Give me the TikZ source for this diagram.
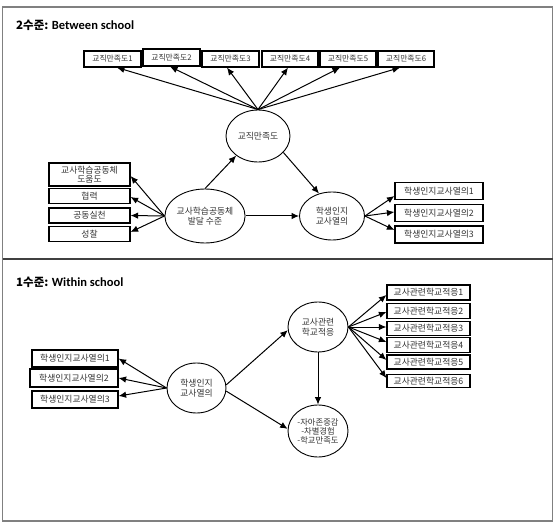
\documentclass[tikz,border=0pt]{standalone}
\usepackage{fontspec}
\setmainfont{Noto Sans CJK KR}
\newfontfamily\latinb{Carlito}
\usetikzlibrary{arrows.meta,shapes.geometric}
\definecolor{txt}{HTML}{333333}
\tikzset{
  box/.style={draw=black, line width=1.2pt, fill=white, inner sep=0pt, minimum height=15pt,
    font=\fontsize{8.8}{10}\selectfont, text=txt, align=center},
  smallbox/.style={box, minimum height=16pt, font=\fontsize{7.8}{9}\selectfont},
  lat/.style={draw=black, line width=0.9pt, ellipse, inner sep=0pt,
    font=\fontsize{8.8}{10.5}\selectfont, text=txt, align=center},
  arr/.style={-{Latex[length=7.5pt,width=6.5pt]}, line width=1pt},
  title/.style={anchor=west, inner sep=0pt, font=\fontsize{11.5}{13}\selectfont\bfseries},
}
\begin{document}
\begin{tikzpicture}[x=1pt,y=-1pt]
\useasboundingbox (0,0) rectangle (555,524);
\draw[gray, line width=1.5pt] (2.5,7) rectangle (552.5,521);
\draw[black!75, line width=1.5pt] (2.5,259) -- (552.5,259);

% ---------- Level 2 ----------
\node[title] (h2) at (16,25) {2수준: {\latinb\fontsize{12.5}{13}\selectfont Between school}};

\node[smallbox, minimum width=57pt] (t1) at (112.5,59) {교직만족도1};
\node[smallbox, minimum width=57pt, minimum height=17pt] (t2) at (171.5,57.5) {교직만족도2};
\node[smallbox, minimum width=57pt] (t3) at (230.5,59) {교직만족도3};
\node[smallbox, minimum width=56pt] (t4) at (290,59) {교직만족도4};
\node[smallbox, minimum width=56pt] (t5) at (348,59) {교직만족도5};
\node[smallbox, minimum width=56pt] (t6) at (406,59) {교직만족도6};

\node[lat, minimum width=64pt, minimum height=52pt] (sat) at (258,136) {교직만족도};

\draw[arr] (sat.north) -- ([xshift=4.5pt]t1.south);
\draw[arr] (sat.north) -- ([xshift=-1.5pt]t2.south);
\draw[arr] (sat.north) -- ([xshift=-3.5pt]t3.south);
\draw[arr] (sat.north) -- ([xshift=-2pt]t4.south);
\draw[arr] (sat.north) -- ([xshift=-8pt]t5.south);
\draw[arr] (sat.north) -- ([xshift=-6pt]t6.south);

\node[box, minimum width=81pt, minimum height=23pt, font=\fontsize{8.8}{9.5}\selectfont] (a) at (89.5,174.5) {교사학습공동체\\도움도};
\node[box, minimum width=81pt] (b) at (89.5,196) {협력};
\node[box, minimum width=81pt] (c) at (89.5,215.5) {공동실천};
\node[box, minimum width=81pt, minimum height=15.5pt] (d) at (89.5,234) {성찰};

\node[lat, minimum width=66pt, minimum height=54pt] (dev) at (205,216) {교사학습공동체\\발달 수준};

\draw[arr] (dev.west) -- ([yshift=-1.5pt]a.east);
\draw[arr] (dev.west) -- ([yshift=-1pt]b.east);
\draw[arr] (dev.west) -- (c.east);
\draw[arr] (dev.west) -- ([yshift=2pt]d.east);

\node[lat, minimum width=65pt, minimum height=48pt] (stu) at (332,216) {학생인지\\교사열의};

\draw[arr] (dev.north) -- (sat.222);
\draw[arr] (dev.east) -- (stu.west);
\draw[arr] (sat.-33) -- (stu.120);

\node[box, minimum width=88pt, minimum height=17pt] (r1) at (439,191) {학생인지교사열의1};
\node[box, minimum width=88pt, minimum height=17pt] (r2) at (439,213) {학생인지교사열의2};
\node[box, minimum width=88pt, minimum height=17pt] (r3) at (439,234.5) {학생인지교사열의3};

\draw[arr] (stu.east) -- ([yshift=-5pt]r1.west);
\draw[arr] (stu.east) -- ([yshift=1pt]r2.west);
\draw[arr] (stu.east) -- ([yshift=4.5pt]r3.west);

% ---------- Level 1 ----------
\node[title] (h1) at (16,282) {1수준: {\latinb\fontsize{12.5}{13}\selectfont Within school}};

\node[box, minimum width=86pt, minimum height=17pt] (l1) at (75,358.5) {학생인지교사열의1};
\node[box, minimum width=88pt, minimum height=18pt] (l2) at (74,378) {학생인지교사열의2};
\node[box, minimum width=86pt, minimum height=17pt] (l3) at (75,399.5) {학생인지교사열의3};

\node[lat, minimum width=59pt, minimum height=50pt] (stu2) at (196.5,388) {학생인지\\교사열의};

\draw[arr] (stu2.west) -- (l1.east);
\draw[arr] (stu2.west) -- (l2.east);
\draw[arr] (stu2.west) -- ([yshift=3.5pt]l3.east);

\node[lat, minimum width=60pt, minimum height=50pt] (adj) at (318,327) {교사관련\\학교적응};
\node[lat, minimum width=60pt, minimum height=52pt, font=\fontsize{8.3}{9}\selectfont] (out) at (318,431) {-자아존중감\\-차별경험\\-학교만족도};

\draw[arr] (stu2.6) -- (adj.186);
\draw[arr] (stu2.-6) -- (out.176);
\draw[arr] (adj.south) -- (out.north);

\node[box, minimum width=83pt] (rb1) at (428.5,292.5) {교사관련학교적응1};
\node[box, minimum width=83pt] (rb2) at (428.5,311) {교사관련학교적응2};
\node[box, minimum width=83pt, minimum height=14pt] (rb3) at (428.5,328.5) {교사관련학교적응3};
\node[box, minimum width=83pt] (rb4) at (428.5,345) {교사관련학교적응4};
\node[box, minimum width=83pt, minimum height=14pt] (rb5) at (428.5,362) {교사관련학교적응5};
\node[box, minimum width=83pt, minimum height=13.5pt] (rb6) at (428.5,381) {교사관련학교적응6};

\draw[arr] (adj.east) -- ([yshift=-2.5pt]rb1.west);
\draw[arr] (adj.east) -- ([yshift=-1pt]rb2.west);
\draw[arr] (adj.east) -- ([yshift=1.5pt]rb3.west);
\draw[arr] (adj.east) -- ([yshift=3pt]rb4.west);
\draw[arr] (adj.east) -- ([yshift=2pt]rb5.west);
\draw[arr] (adj.east) -- ([yshift=3pt]rb6.west);
\end{tikzpicture}
\end{document}
